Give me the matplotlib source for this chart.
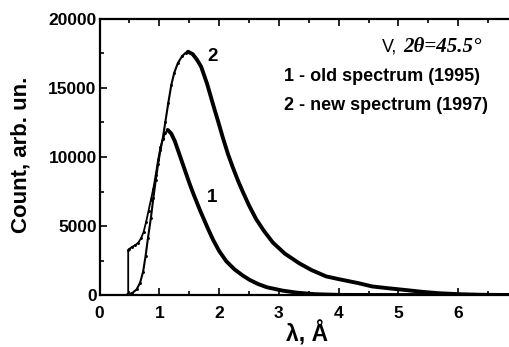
import matplotlib
matplotlib.use("Agg")
import matplotlib.pyplot as plt
from matplotlib.ticker import MultipleLocator
import numpy as np

# Curve 1: old spectrum (1995)
x_old = [0.25, 0.45, 0.48, 0.48, 0.50, 0.55, 0.60, 0.65, 0.70, 0.74, 0.78, 0.82, 0.86, 0.90,
         0.94, 0.98, 1.02, 1.06, 1.10, 1.14, 1.20, 1.26, 1.32, 1.38, 1.44, 1.50, 1.56,
         1.62, 1.68, 1.75, 1.82, 1.90, 2.0, 2.12, 2.26, 2.40, 2.51, 2.65, 2.80, 3.06, 3.30,
         3.60, 4.0, 4.5, 6.85]
y_old = [0, 0, 100, 3260, 3350, 3500, 3620, 3800, 4150, 4600, 5300, 6100, 6900, 7700,
         8700, 9800, 10700, 11300, 11750, 11960, 11700, 11150, 10400, 9650, 8900, 8150, 7450,
         6800, 6150, 5450, 4750, 4000, 3200, 2450, 1850, 1400, 1100, 800, 560, 320, 170,
         60, 10, 0, 0]

# Curve 2: new spectrum (1997)
x_new = [0.45, 0.55, 0.62, 0.68, 0.73, 0.77, 0.81, 0.86, 0.90, 0.94, 0.98, 1.02, 1.06, 1.10,
         1.15, 1.20, 1.25, 1.31, 1.38, 1.44, 1.48, 1.56, 1.63, 1.70, 1.80, 1.90, 2.0, 2.06,
         2.15, 2.23, 2.32, 2.40, 2.50, 2.62, 2.75, 2.90, 3.10, 3.34, 3.55, 3.79, 4.0, 4.34,
         4.56, 4.85, 5.12, 5.40, 5.67, 6.0, 6.4, 6.85]
y_new = [0, 150, 400, 900, 1700, 2800, 4100, 5600, 7000, 8300, 9500, 10500, 11400, 12500,
         13900, 15200, 16100, 16800, 17300, 17550, 17630, 17450, 17050, 16550, 15300, 13800, 12350, 11450,
         10200, 9250, 8250, 7450, 6500, 5500, 4650, 3800, 3000, 2300, 1800, 1350, 1150, 850,
         620, 480, 360, 230, 130, 60, 15, 0]

x_ticks = [0, 1, 2, 3, 4, 5, 6]
y_ticks = [0, 5000, 10000, 15000, 20000]

plt.rcParams['font.family'] = ['Liberation Sans', 'DejaVu Sans']

W, H = 509, 347
fig = plt.figure(figsize=(W / 100, H / 100), dpi=100)
ax = fig.add_axes([99.5 / W, 1 - 295 / H, (W - 99.5) / W, (295 - 19) / H])

def draw(xs, ys, lw_rise, lw_fall):
    xs = np.asarray(xs)
    ys = np.asarray(ys)
    k = int(np.argmax(ys))
    ax.plot(xs[:k + 1], ys[:k + 1], color='black', lw=lw_rise, marker='.', ms=2.2)
    ax.plot(xs[k:], ys[k:], color='black', lw=lw_fall, solid_capstyle='round')

draw(x_old, y_old, 1.3, 2.8)
draw(x_new, y_new, 1.5, 2.8)

ax.set_xlim(0, 6.85)
ax.set_ylim(0, 20000)
ax.set_xticks(x_ticks)
ax.set_yticks(y_ticks)
ax.xaxis.set_minor_locator(MultipleLocator(0.5))
ax.yaxis.set_minor_locator(MultipleLocator(2500))
ax.tick_params(which='both', direction='in', top=True, right=False, width=1.2)
ax.tick_params(which='major', length=5, labelsize=12.5)
ax.tick_params(which='minor', length=3)
ax.tick_params(axis='x', which='major', pad=8)
ax.tick_params(axis='y', which='major', pad=2)
for lab in ax.get_xticklabels() + ax.get_yticklabels():
    lab.set_fontweight('bold')
ax.spines['right'].set_visible(False)
for s in ['left', 'bottom', 'top']:
    ax.spines[s].set_linewidth(1.6)

fig.text(21 / W, 1 - 154.5 / H, 'Count, arb. un.', fontsize=16, fontweight='bold',
         rotation=90, ha='center', va='center')
fig.text(307 / W, 1 - 334 / H, 'λ, Å', fontsize=16.5, fontweight='bold', ha='center', va='center')

ax.text(1.89, 17250, '2', fontsize=13.5, fontweight='bold', ha='center', va='center')
ax.text(1.89, 7100, '1', fontsize=13.5, fontweight='bold', ha='center', va='center')

ax.text(4.72, 17950, 'V,', fontsize=13, ha='left', va='center')
ax.text(5.08, 17950, '2θ=45.5°', fontsize=15, fontweight='bold',
        fontstyle='italic', family='Liberation Serif', ha='left', va='center')
ax.text(3.09, 15800, '1 - old spectrum (1995)', fontsize=13, fontweight='bold', ha='left', va='center')
ax.text(3.09, 13700, '2 - new spectrum (1997)', fontsize=13, fontweight='bold', ha='left', va='center')

fig.savefig('out.png', dpi=100)
